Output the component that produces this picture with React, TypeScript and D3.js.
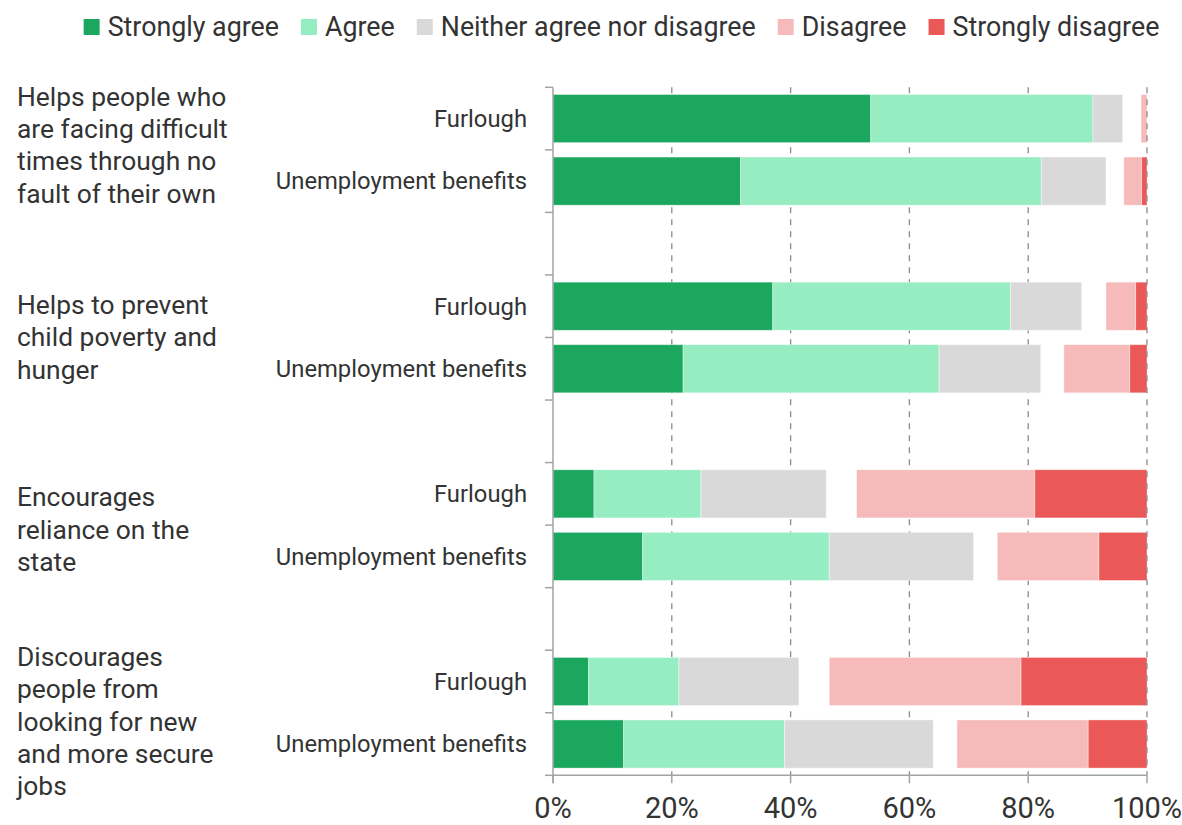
import { useEffect, useRef } from 'react';
import * as d3 from 'd3';

const QUESTIONS = [
  ['Helps people who', 'are facing difficult', 'times through no', 'fault of their own'],
  ['Helps to prevent', 'child poverty and', 'hunger'],
  ['Encourages', 'reliance on the', 'state'],
  ['Discourages', 'people from', 'looking for new', 'and more secure', 'jobs'],
];
const SCHEMES = ['Furlough', 'Unemployment benefits'];

// one value per bar: q1 furlough, q1 benefits, q2 furlough, ...
const stronglyAgree = [53.5, 31.6, 37.0, 21.9, 6.9, 15.1, 6.0, 11.9];
const agree = [37.4, 50.6, 40.0, 43.1, 18.0, 31.4, 15.2, 27.1];
const neither = [5.0, 10.9, 12.0, 17.1, 21.1, 24.3, 20.2, 25.0];
const dontKnow = [3.1, 3.0, 4.1, 3.9, 5.1, 4.0, 5.1, 4.0];
const disagree = [1.0, 3.0, 5.0, 11.1, 30.0, 17.1, 32.3, 22.1];
const stronglyDisagree = [0, 0.9, 1.9, 2.9, 18.9, 8.1, 21.2, 9.9];

const X_TICKS = [0, 20, 40, 60, 80, 100];

const SERIES = [
  { key: 'sa', label: 'Strongly agree', color: '#1ca75f', values: stronglyAgree },
  { key: 'a', label: 'Agree', color: '#97edc2', values: agree },
  { key: 'n', label: 'Neither agree nor disagree', color: '#d9d9d9', values: neither },
  { key: 'dk', label: null, color: 'none', values: dontKnow },
  { key: 'd', label: 'Disagree', color: '#f6baba', values: disagree },
  { key: 'sd', label: 'Strongly disagree', color: '#eb5858', values: stronglyDisagree },
];

const FONT = 'Roboto, "Open Sans", sans-serif';
const TEXT = '#333333';
const AXIS = '#a3a3a3';

export default function App() {
  const svgRef = useRef<SVGSVGElement>(null);

  useEffect(() => {
    document.body.style.margin = '0';
    if (!svgRef.current) return;
    const svg = d3.select(svgRef.current);
    svg.selectAll('*').remove();

    const left = 553;
    const right = 1147;
    const top = 87.3;
    const bottom = 775.3;

    // slots: bars plus an empty slot between question groups
    const slots: string[] = [];
    QUESTIONS.forEach((_, qi) => {
      SCHEMES.forEach((_, si) => slots.push(`${qi}-${si}`));
      if (qi < QUESTIONS.length - 1) slots.push(`gap-${qi}`);
    });

    const x = d3.scaleLinear().domain([0, 100]).range([left, right]);
    const y = d3.scaleBand<string>().domain(slots).range([top, bottom]).padding(0);
    const step = y.step();
    const barH = step * 0.77;
    const barOff = (step - barH) / 2;

    // grid
    const grid = (g: d3.Selection<SVGGElement, unknown, null, undefined>, vals: number[]) =>
      g.selectAll('line')
        .data(vals)
        .enter()
        .append('line')
        .attr('x1', d => x(d))
        .attr('x2', d => x(d))
        .attr('y1', top)
        .attr('y2', bottom)
        .attr('stroke', '#8a8a8a')
        .attr('stroke-width', 1.3)
        .attr('stroke-dasharray', '6,6');
    grid(svg.append('g'), X_TICKS.slice(1, -1));

    // bars
    const rows = d3.range(stronglyAgree.length).map(i => {
      let acc = 0;
      return SERIES.map(s => {
        const v = s.values[i];
        const seg = { key: s.key, color: s.color, x0: acc, x1: acc + v };
        acc += v;
        return seg;
      });
    });

    const barsG = svg.append('g');
    rows.forEach((segs, i) => {
      const qi = Math.floor(i / 2);
      const si = i % 2;
      const y0 = (y(`${qi}-${si}`) ?? 0) + barOff;
      barsG.selectAll(`.seg-${i}`)
        .data(segs.filter(s => s.color !== 'none' && s.x1 - s.x0 > 0))
        .enter()
        .append('rect')
        .attr('x', d => x(d.x0))
        .attr('y', y0)
        .attr('width', d => x(d.x1) - x(d.x0))
        .attr('height', barH)
        .attr('fill', d => d.color)
        .attr('stroke', '#ffffff')
        .attr('stroke-opacity', 0.5)
        .attr('stroke-width', 0.8);

      svg.append('text')
        .attr('x', left - 26)
        .attr('y', y0 + barH / 2)
        .attr('dy', '0.35em')
        .attr('text-anchor', 'end')
        .attr('font-family', FONT)
        .attr('font-size', 23.8)
        .attr('fill', TEXT)
        .text(SCHEMES[si]);
    });

    // 100% gridline drawn over the bar ends
    grid(svg.append('g'), [100]);

    // y axis
    const yAxis = svg.append('g');
    yAxis.append('line')
      .attr('x1', left).attr('x2', left)
      .attr('y1', top).attr('y2', bottom + 8)
      .attr('stroke', AXIS).attr('stroke-width', 1.5);
    yAxis.selectAll('.ytick')
      .data([...slots.map(s => y(s) ?? 0), bottom])
      .enter()
      .append('line')
      .attr('x1', left - 8).attr('x2', left)
      .attr('y1', d => d).attr('y2', d => d)
      .attr('stroke', AXIS).attr('stroke-width', 1.5);

    // x axis
    const xAxis = svg.append('g');
    xAxis.append('line')
      .attr('x1', left).attr('x2', right)
      .attr('y1', bottom).attr('y2', bottom)
      .attr('stroke', AXIS).attr('stroke-width', 1.5);
    const xt = xAxis.selectAll('.xtick').data(X_TICKS).enter().append('g')
      .attr('transform', d => `translate(${x(d)},${bottom})`);
    xt.append('line').attr('y1', 0).attr('y2', 8).attr('stroke', AXIS).attr('stroke-width', 1.5);
    xt.append('text')
      .attr('y', 32.5)
      .attr('dy', '0.35em')
      .attr('text-anchor', 'middle')
      .attr('font-family', FONT)
      .attr('font-size', 29)
      .attr('fill', TEXT)
      .text(d => `${d}%`);

    // question labels
    const lineH = 32.3;
    const labelY = d3.scalePoint<number>()
      .domain(QUESTIONS.map((_, i) => i))
      .range([145, 721.5]);
    QUESTIONS.forEach((lines, qi) => {
      const cy = labelY(qi) ?? 0;
      const t = svg.append('text')
        .attr('font-family', FONT)
        .attr('font-size', 26.4)
        .attr('fill', TEXT);
      lines.forEach((ln, li) => {
        t.append('tspan')
          .attr('x', 17)
          .attr('y', cy + (li - (lines.length - 1) / 2) * lineH)
          .attr('dy', '0.35em')
          .text(ln);
      });
    });

    // legend
    const legend = svg.append('g');
    let lx = 0;
    SERIES.filter(s => s.label).forEach(s => {
      const g = legend.append('g').attr('transform', `translate(${lx},0)`);
      g.append('rect').attr('x', 0).attr('y', -8).attr('width', 16).attr('height', 16).attr('fill', s.color);
      const txt = g.append('text')
        .attr('x', 24)
        .attr('dy', '0.35em')
        .attr('font-family', FONT)
        .attr('font-size', 26.8)
        .attr('fill', TEXT)
        .text(s.label as string);
      const w = (txt.node() as SVGTextElement).getComputedTextLength();
      lx += 24 + w + 22;
    });
    const total = lx - 22;
    legend.attr('transform', `translate(${(83 + 1160) / 2 - total / 2},27)`);
  }, []);

  return <svg ref={svgRef} width={1182} height={825} style={{ display: 'block', background: '#fff' }} />;
}
